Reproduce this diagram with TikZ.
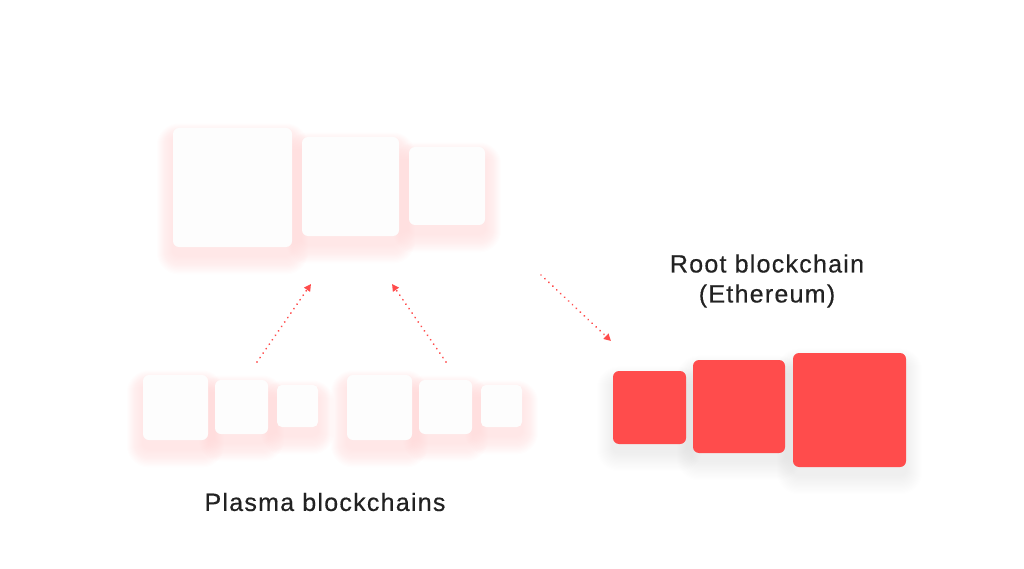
\documentclass[tikz,border=0pt]{standalone}
\usepackage{fontspec}
\setmainfont{Liberation Sans}[LetterSpace=5,FakeBold=0.4]
\usepackage{tikz}
\usepackage{xcolor}
\usetikzlibrary{arrows.meta,backgrounds}
\definecolor{plasmared}{HTML}{FF4C4C}
\definecolor{boxwhite}{HTML}{FDFDFD}
\definecolor{labelgray}{HTML}{222222}
\definecolor{glowpink}{HTML}{FF7070}

\tikzset{
  chainbox/.style={fill=boxwhite, rounded corners=6pt, inner sep=0pt},
  rootbox/.style={fill=plasmared, rounded corners=6pt, inner sep=0pt},
  dotarrow/.style={plasmared, line width=2pt, dash pattern=on 0.01pt off 5.4pt, line cap=round,
    -{Triangle[length=7pt,width=7pt,line cap=butt]}},
  bigtext/.style={text=labelgray, font=\fontsize{25}{30}\selectfont, align=center}
}

\begin{document}
\begin{tikzpicture}[x=1pt,y=-1pt]
  \useasboundingbox (0,0) rectangle (1024,569);
    % upper chain
    \node[chainbox, minimum width=119pt, minimum height=119pt] (top1) at (232.5,187.5) {};
    \node[chainbox, minimum width=97pt, minimum height=99pt] (top2) at (350.5,186.5) {};
    \node[chainbox, minimum width=76pt, minimum height=78pt] (top3) at (447,186) {};
    % plasma chains
    \node[chainbox, minimum width=65pt, minimum height=65pt] (pa1) at (175.5,407.5) {};
    \node[chainbox, minimum width=53pt, minimum height=54pt] (pa2) at (241.5,407) {};
    \node[chainbox, minimum width=41pt, minimum height=42pt, rounded corners=5pt] (pa3) at (297.5,406) {};
    \node[chainbox, minimum width=65pt, minimum height=65pt] (pb1) at (379.5,407.5) {};
    \node[chainbox, minimum width=53pt, minimum height=54pt] (pb2) at (445.5,407) {};
    \node[chainbox, minimum width=41pt, minimum height=42pt, rounded corners=5pt] (pb3) at (501.5,406) {};
    % root chain
    \node[rootbox, minimum width=73pt, minimum height=73pt] (root1) at (649.5,407.5) {};
    \node[rootbox, minimum width=92pt, minimum height=93pt] (root2) at (739,406.5) {};
    \node[rootbox, minimum width=113pt, minimum height=114pt] (root3) at (849.5,410) {};

    \begin{scope}[on background layer]
      \fill[white] (0,0) rectangle (1024,569);
      \foreach \b in {top1,top2,top3,pa1,pa2,pa3,pb1,pb2,pb3}{
        \foreach \k [evaluate=\k as \rc using 6+\k] in {1,...,16}
          \fill[glowpink, fill opacity=0.008, rounded corners=\rc pt]
            ([xshift=-\k*1pt, yshift=-10pt+\k*0.9pt]\b.north west) rectangle ([xshift=\k*1pt, yshift=-8pt-\k*1.2pt]\b.south east);
      }
      \foreach \b in {root1,root2,root3}{
        \foreach \k [evaluate=\k as \rc using 6+\k] in {1,...,16}
          \fill[glowpink!70!gray, fill opacity=0.005, rounded corners=\rc pt]
            ([xshift=-\k*1pt, yshift=-10pt+\k*0.9pt]\b.north west) rectangle ([xshift=\k*1pt, yshift=-8pt-\k*1.2pt]\b.south east);
      }
    \end{scope}

    \coordinate (a1s) at (257,362);
    \coordinate (a1e) at (311,284);
    \coordinate (a2s) at (446,362);
    \coordinate (a2e) at (392,284);
    \coordinate (a3s) at (541,275);
    \coordinate (a3e) at (611,341);
    \draw[dotarrow] (a1s) -- (a1e);
    \draw[dotarrow] (a2s) -- (a2e);
    \draw[dotarrow] (a3s) -- (a3e);

    \node[bigtext] (rootlabel) at (767,281) {Root blockchain\\(Ethereum)};
    \node[bigtext] (plasmalabel) at (325,502) {Plasma blockchains};
  \end{tikzpicture}
\end{document}
